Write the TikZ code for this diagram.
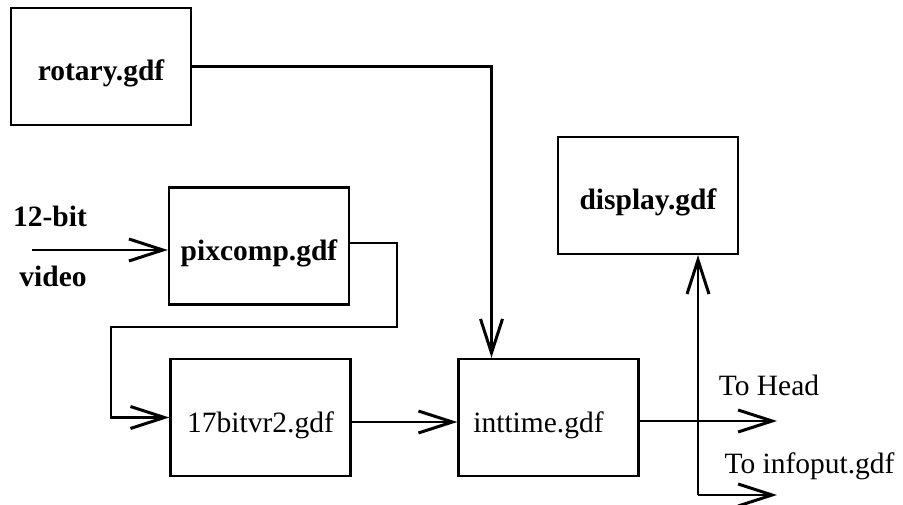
\documentclass[tikz,border=0pt]{standalone}
\usepackage{fontspec}
\setmainfont{Liberation Serif}
\usetikzlibrary{arrows.meta}
\begin{document}
\begin{tikzpicture}[x=1pt,y=-1pt]
\tikzstyle{every node}+=[font=\fontsize{29.5}{34}\selectfont]
\tikzstyle{gdf}=[draw=black,line width=2.4pt,minimum width=180pt,minimum height=117pt,text height=33pt,text depth=4pt,inner sep=0pt]
\tikzstyle{wire}=[black,line width=2.2pt]
\tikzstyle{arr}=[wire,-{Straight Barb[length=34pt,width=22pt,line width=3pt]}]
\useasboundingbox (0,0) rectangle (903,505);
\node [gdf] (rotary) at (101,66.5) {\bfseries rotary.gdf};
\node [gdf] (pixcomp) at (259,246) {\bfseries pixcomp.gdf};
\node [gdf] (bitvr) at (260.5,417.5) {17bitvr2.gdf};
\node [gdf] (inttime) at (548.5,417.5) {inttime.gdf\kern20pt};
\node [gdf] (display) at (648,195.5) {\bfseries display.gdf};
\node (bit) at (50,216) {\bfseries 12-bit};
\node (video) at (53,276) {\bfseries video};
\node (tohead) at (769,385) {To Head};
\node [anchor=west] (toinfo) at (721,466) {To infoput.gdf};
\coordinate (vin) at (32,250);
\coordinate (head) at (777,421);
\coordinate (info) at (777,495);
\coordinate (corner) at (698,495);
\draw [arr] (vin) -- (vin -| pixcomp.west);
\draw [arr] ([yshift=3pt]pixcomp.east) -| (397,327) -- (111,327) |- (bitvr.west);
\draw [arr] ([yshift=-4.5pt]bitvr.east) -- ([yshift=-4.5pt]bitvr.east -| inttime.west);
\draw [arr] (rotary.east) -| ([xshift=-57pt]inttime.north);
\draw [arr] ([yshift=-3.5pt]inttime.east) -- (head);
\draw [arr] (corner) -- (corner |- display.south);
\draw [arr] (corner) -- (info);
\end{tikzpicture}
\end{document}
